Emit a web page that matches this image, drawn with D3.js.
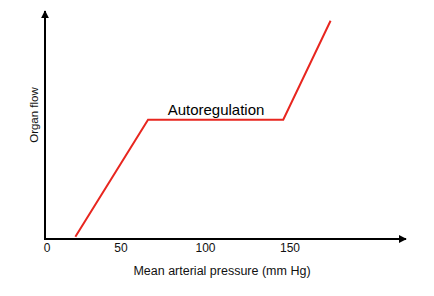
<!DOCTYPE html>
<html>
<head>
<meta charset="utf-8" />
<title>Autoregulation</title>
<script src="https://cdn.jsdelivr.net/npm/d3@7"></script>
<style>
  body { margin: 0; background: #fff; }
  text { font-family: "Liberation Sans", Arial, sans-serif; }
</style>
</head>
<body>
<svg width="434" height="296"></svg>
<script>
// data
let pressure = [23, 66, 146, 174];   // mm Hg
let flow     = [1, 53, 53, 97];       // arbitrary units
let xTicks   = [0, 50, 100, 150];
let annotation = "Autoregulation";

let svg = d3.select("svg");

// scales
let xScale = d3.scaleLinear().domain([0, 50]).range([36.5, 121]);
let yScale = d3.scaleLinear().domain([0, 100]).range([239, 14]);

let x0 = 45, y0 = 239;

// arrow marker
svg.append("defs").append("marker")
  .attr("id", "arrow")
  .attr("viewBox", "0 0 10 10")
  .attr("refX", 9).attr("refY", 5)
  .attr("markerWidth", 4).attr("markerHeight", 4)
  .attr("orient", "auto")
  .append("path")
  .attr("d", "M0,0 L10,5 L0,10 Z")
  .attr("fill", "#000");

// axes
svg.append("line")
  .attr("x1", x0).attr("y1", y0)
  .attr("x2", 406).attr("y2", y0)
  .attr("stroke", "#000").attr("stroke-width", 2)
  .attr("marker-end", "url(#arrow)");

svg.append("line")
  .attr("x1", x0).attr("y1", y0 + 1)
  .attr("x2", x0).attr("y2", 11)
  .attr("stroke", "#000").attr("stroke-width", 2)
  .attr("marker-end", "url(#arrow)");

// tick labels (0 sits at the origin)
svg.selectAll(".tick").data(xTicks)
  .enter().append("text")
  .attr("class", "tick")
  .attr("x", d => d === 0 ? x0 + 2 : xScale(d))
  .attr("y", 252)
  .attr("text-anchor", "middle")
  .attr("font-size", 12)
  .attr("fill", "#111")
  .text(d => d);

// axis titles
svg.append("text")
  .attr("x", 222).attr("y", 275)
  .attr("text-anchor", "middle")
  .attr("font-size", 12.5)
  .attr("fill", "#111")
  .text("Mean arterial pressure (mm Hg)");

svg.append("text")
  .attr("transform", "translate(38,115) rotate(-90)")
  .attr("text-anchor", "middle")
  .attr("font-size", 11.5)
  .attr("fill", "#111")
  .text("Organ flow");

// the curve
let pts = pressure.map((p, i) => [p, flow[i]]);
let line = d3.line().x(d => xScale(d[0])).y(d => yScale(d[1]));

svg.append("path")
  .datum(pts)
  .attr("d", line)
  .attr("fill", "none")
  .attr("stroke", "#e8261f")
  .attr("stroke-width", 2)
  .attr("stroke-linejoin", "miter");

svg.append("text")
  .attr("x", 216).attr("y", 115)
  .attr("text-anchor", "middle")
  .attr("font-size", 15)
  .attr("fill", "#000")
  .text(annotation);
</script>
</body>
</html>
